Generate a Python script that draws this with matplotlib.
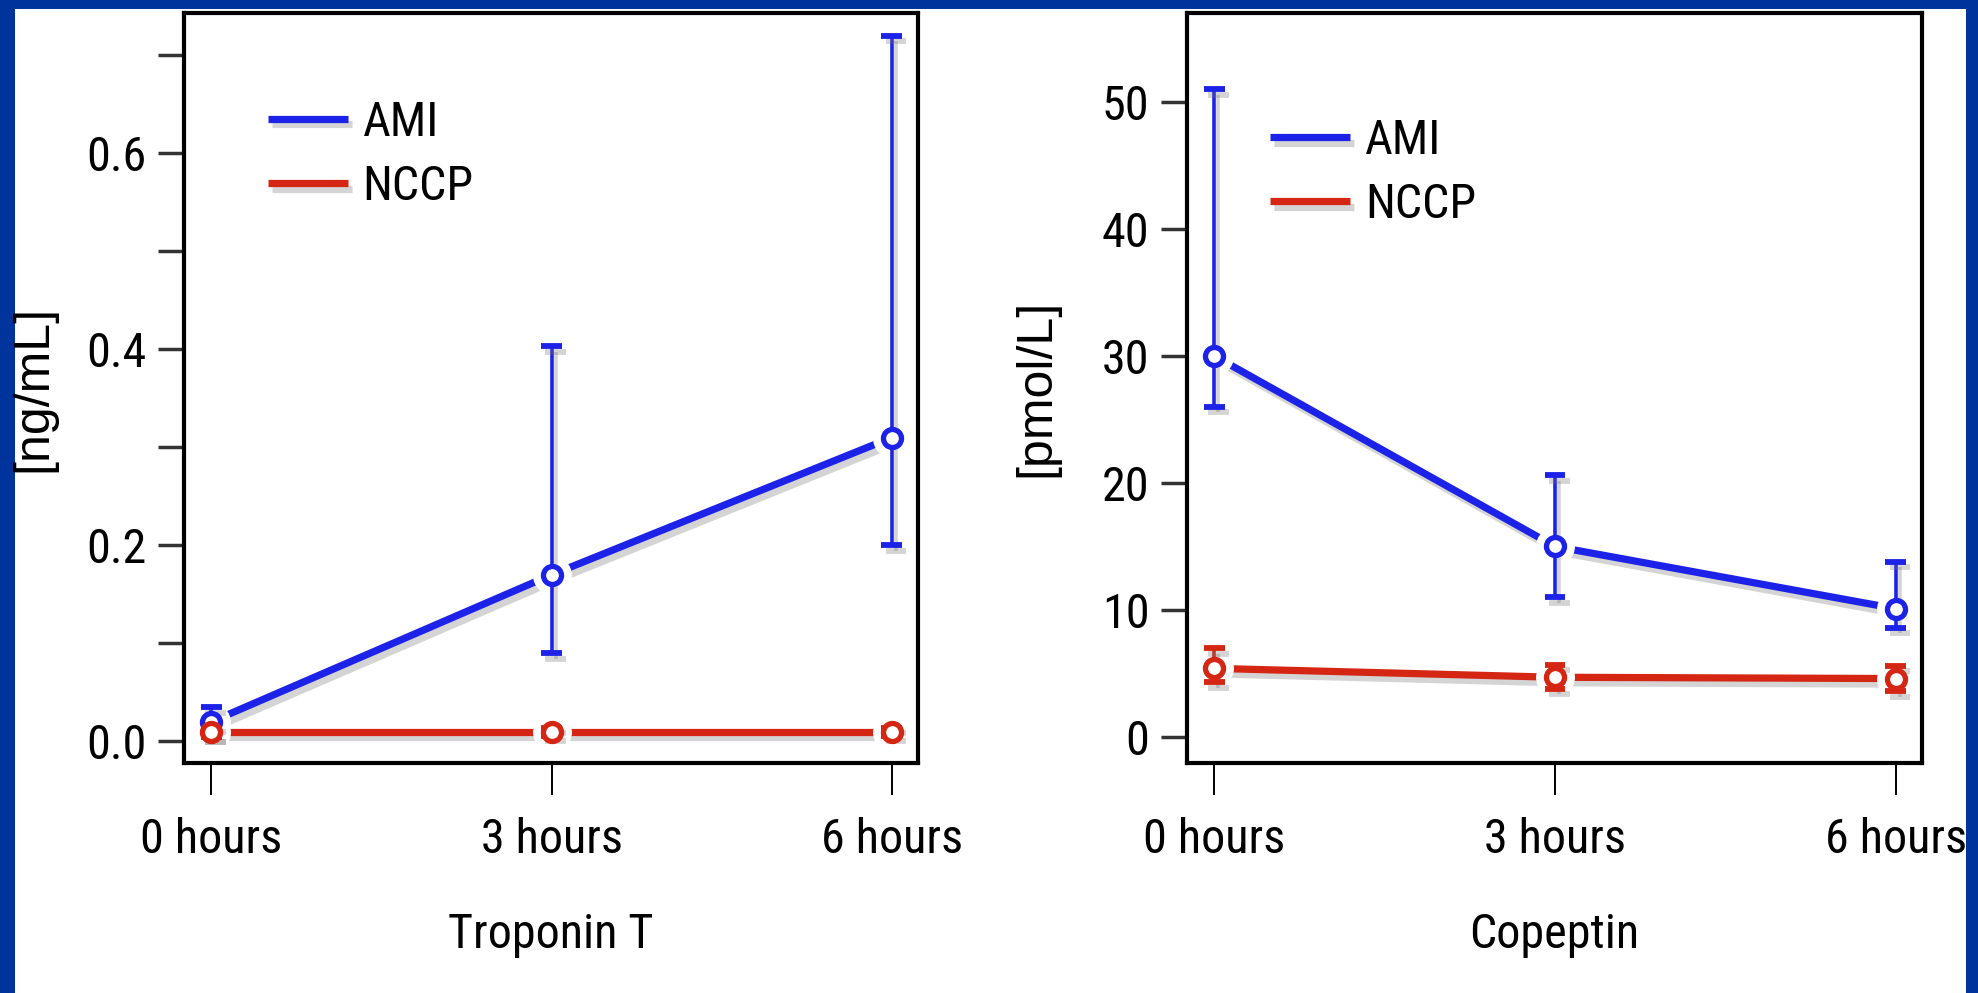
import matplotlib
matplotlib.use('Agg')
import numpy as np
import matplotlib.pyplot as plt
from matplotlib import font_manager as fm
import matplotlib.patheffects as pe
from matplotlib.patches import Rectangle

# ---------------- data ----------------
times = [0, 3, 6]
time_labels = ['0 hours', '3 hours', '6 hours']

trop_ami = [0.02, 0.17, 0.31]
trop_ami_lo = [0.005, 0.09, 0.20]
trop_ami_hi = [0.035, 0.403, 0.72]
trop_nccp = [0.01, 0.01, 0.01]
trop_nccp_lo = [0.005, 0.006, 0.006]
trop_nccp_hi = [0.015, 0.014, 0.014]

cop_ami = [30.0, 15.0, 10.1]
cop_ami_lo = [26.0, 11.0, 8.6]
cop_ami_hi = [51.0, 20.6, 13.8]
cop_nccp = [5.4, 4.7, 4.6]
cop_nccp_lo = [4.3, 3.8, 3.6]
cop_nccp_hi = [7.0, 5.7, 5.6]

trop_yticks = [0.0, 0.1, 0.2, 0.3, 0.4, 0.5, 0.6, 0.7]
trop_yticklabels = ['0.0', '', '0.2', '', '0.4', '', '0.6', '']
cop_yticks = [0, 10, 20, 30, 40, 50]
cop_yticklabels = ['0', '10', '20', '30', '40', '50']

series_names = ['AMI', 'NCCP']

# ---------------- style ----------------
names = {f.name for f in fm.fontManager.ttflist}
NARROW = 'Liberation Sans'
for cand in ['Liberation Sans Narrow', 'Roboto Condensed', 'Open Sans Condensed',
             'DejaVu Sans Condensed', 'Liberation Sans']:
    if cand in names:
        NARROW = cand
        break
REG = 'Liberation Sans' if 'Liberation Sans' in names else 'DejaVu Sans'
plt.rcParams['font.family'] = [NARROW, 'DejaVu Sans']

BLUE = '#1c22e8'
RED = '#d42612'
BORDER = '#00339c'

W, H = 1978, 993
fig = plt.figure(figsize=(W / 100, H / 100), dpi=100, facecolor=BORDER)
fig.patches.append(Rectangle((15 / W, 0), (1966 - 15) / W, (993 - 9) / H,
                             transform=fig.transFigure, facecolor='white',
                             edgecolor='none', zorder=-10))

# fit the tick-label font size so that "0 hours" is about 142 px wide, as in the reference
renderer = fig.canvas.get_renderer()
probe = fig.text(0, 0, '0 hours', fontsize=37, family=[NARROW, 'DejaVu Sans'])
w37 = probe.get_window_extent(renderer).width
probe.remove()
FS = min(38.0, 37.0 * 142.0 / w37)

shadow = [pe.SimpleLineShadow(offset=(3, -4), shadow_color='0.45', alpha=0.3), pe.Normal()]


def panel(rect, series, yticks, yticklabels, ylim, ylabel, xlabel, leg_anchor):
    ax = fig.add_axes(rect, zorder=5)
    ax.set_facecolor('white')
    colors = [BLUE, RED]
    for (m, lo, hi), c, name in zip(series, colors, series_names):
        m = np.array(m)
        ax.plot(times, m, color=c, lw=5.2, label=name, zorder=2,
                solid_capstyle='butt', path_effects=shadow)
        ax.plot(times, m, ls='none', marker='o', ms=27, mfc='white',
                mec='white', zorder=3)
    for (m, lo, hi), c in zip(series, colors):
        m = np.array(m); lo = np.array(lo); hi = np.array(hi)
        eb = ax.errorbar(times, m, yerr=[m - lo, hi - m], fmt='none', ecolor=c,
                         elinewidth=2.6, capsize=7.5, capthick=4.2, zorder=4)
        for art in list(eb.lines[1]) + list(eb.lines[2]):
            art.set_path_effects(shadow)
        ax.plot(times, m, ls='none', marker='o', ms=13, mfc='white', mec=c,
                mew=3.8, zorder=5)

    ax.set_xlim(-0.24, 6.23)
    ax.set_ylim(*ylim)
    ax.set_xticks(times)
    ax.set_xticklabels(time_labels, fontsize=FS)
    ax.set_yticks(yticks)
    ax.set_yticklabels(yticklabels, fontsize=FS)
    ax.tick_params(axis='x', length=23, width=1.4, color='black', pad=16)
    ax.tick_params(axis='y', length=19, width=2.5, color='0.2', pad=8)
    for s in ax.spines.values():
        s.set_linewidth(3)
        s.set_color('black')
    ax.set_ylabel(ylabel, fontsize=36, family=REG)
    ax.yaxis.set_label_coords(-0.174, 0.5)
    ax.set_xlabel(xlabel, fontsize=FS)
    ax.xaxis.set_label_coords(0.5, -0.198)
    ax.legend(loc='center left', bbox_to_anchor=leg_anchor, frameon=False,
              fontsize=FS, handlelength=80.0 / (FS * 100 / 72),
              handletextpad=15.0 / (FS * 100 / 72),
              labelspacing=0.38, borderpad=0, borderaxespad=0)
    return ax


ax1 = panel([184 / W, (H - 763) / H, 734 / W, 750 / H],
            [(trop_ami, trop_ami_lo, trop_ami_hi), (trop_nccp, trop_nccp_lo, trop_nccp_hi)],
            trop_yticks, trop_yticklabels, (-0.022, 0.743), '[ng/mL]', 'Troponin T',
            (0.114, 0.811))
ax2 = panel([1187 / W, (H - 763) / H, 735 / W, 750 / H],
            [(cop_ami, cop_ami_lo, cop_ami_hi), (cop_nccp, cop_nccp_lo, cop_nccp_hi)],
            cop_yticks, cop_yticklabels, (-2.05, 57.0), '[pmol/L]', 'Copeptin',
            (0.113, 0.7865))

fig.savefig('out.png', dpi=100, facecolor=fig.get_facecolor())
